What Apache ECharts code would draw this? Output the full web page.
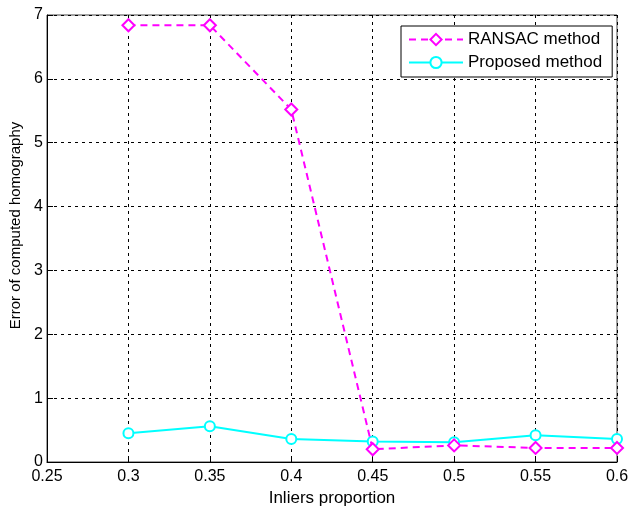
<!DOCTYPE html>
<html><head><meta charset="utf-8">
<script src="https://cdn.jsdelivr.net/npm/echarts@6/dist/echarts.min.js"></script>
<style>html,body{margin:0;padding:0;background:#fff}#c{width:629px;height:511px}</style>
</head><body><div id="c"></div>
<script>
const xValues = [0.3, 0.35, 0.4, 0.45, 0.5, 0.55, 0.6];
const ransac = [6.84, 6.84, 5.52, 0.2, 0.26, 0.22, 0.22];
const proposed = [0.45, 0.56, 0.36, 0.32, 0.31, 0.42, 0.36];
const seriesNames = ['RANSAC method', 'Proposed method'];
const xTitle = 'Inliers proportion';
const yTitle = 'Error of computed homography';

const chart = echarts.init(document.getElementById('c'));
const font = 'Liberation Sans, Arial, sans-serif';
chart.setOption({
  animation: false,
  grid: {left: 47, top: 15, right: 12, bottom: 49, show: true, borderColor: '#444', borderWidth: 1, containLabel: false, outerBoundsMode: 'none'},
  legend: {
    left: 401, top: 26, orient: 'vertical', itemWidth: 54, itemHeight: 14, itemGap: 6,
    backgroundColor: '#fff', borderColor: '#000', borderWidth: 1, borderRadius: 0,
    padding: [5, 10, 6, 7],
    textStyle: {fontFamily: font, fontSize: 17, color: '#000'},
    data: seriesNames
  },
  xAxis: {
    type: 'value', min: 0.25, max: 0.6, interval: 0.05,
    name: xTitle, nameLocation: 'middle', nameGap: 27,
    nameTextStyle: {fontFamily: font, fontSize: 17, color: '#000'},
    axisLine: {show: true, lineStyle: {color: '#000', width: 1}},
    axisTick: {show: true, inside: true, length: 6, lineStyle: {color: '#000'}},
    axisLabel: {fontFamily: font, fontSize: 16, color: '#000', margin: 7, formatter: v => String(+v.toFixed(2))},
    splitLine: {show: true, lineStyle: {color: '#000', type: [3, 4], width: 1}}
  },
  yAxis: {
    type: 'value', min: 0, max: 7, interval: 1,
    name: yTitle, nameLocation: 'middle', nameGap: 24,
    nameTextStyle: {fontFamily: font, fontSize: 15, color: '#000', padding: [0, 0, 0, 26]},
    axisLine: {show: true, lineStyle: {color: '#000', width: 1}},
    axisTick: {show: true, inside: true, length: 6, lineStyle: {color: '#000'}},
    axisLabel: {fontFamily: font, fontSize: 16, color: '#000', margin: 4},
    splitLine: {show: true, lineStyle: {color: '#000', type: [3, 4], width: 1}}
  },
  series: [
    {
      name: seriesNames[0], type: 'line',
      data: xValues.map((x, i) => [x, ransac[i]]),
      symbol: 'diamond', symbolSize: 12, showSymbol: true,
      lineStyle: {color: '#ff00ff', width: 2, type: [7, 5]},
      itemStyle: {color: '#fff', borderColor: '#ff00ff', borderWidth: 2},
      z: 3
    },
    {
      name: seriesNames[1], type: 'line',
      data: xValues.map((x, i) => [x, proposed[i]]),
      symbol: 'circle', symbolSize: 10, showSymbol: true,
      lineStyle: {color: '#00ffff', width: 2},
      itemStyle: {color: '#fff', borderColor: '#00ffff', borderWidth: 2},
      z: 2
    }
  ]
});
</script></body></html>
